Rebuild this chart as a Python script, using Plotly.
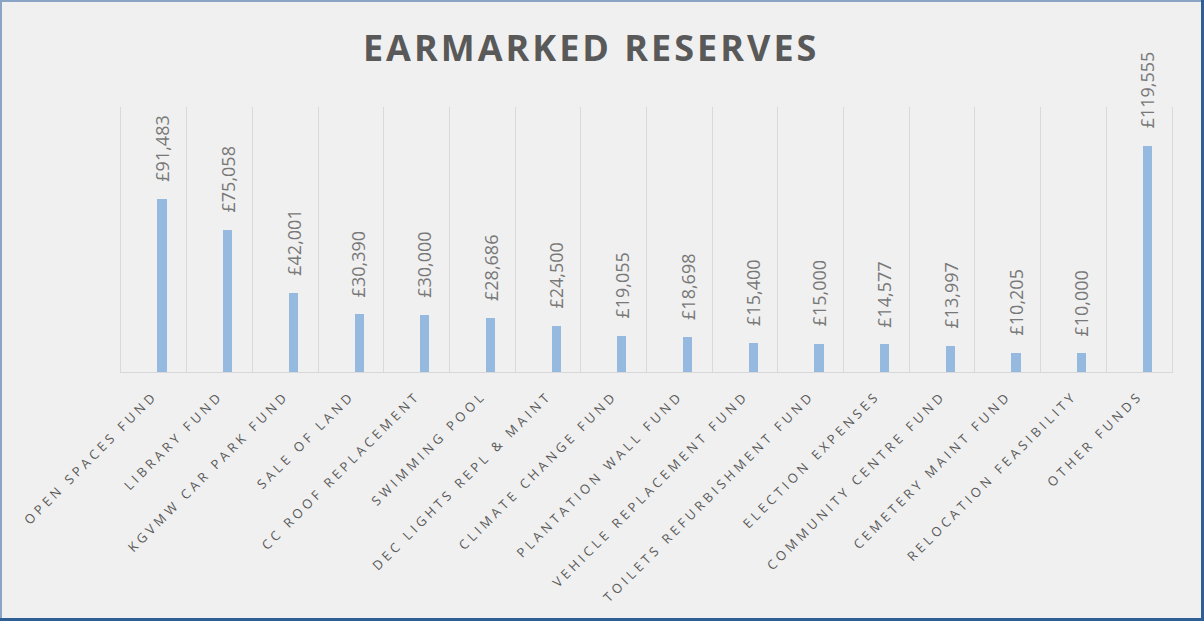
import plotly.graph_objects as go

categories = ["OPEN SPACES FUND", "LIBRARY FUND", "KGVMW CAR PARK FUND", "SALE OF LAND",
              "CC ROOF REPLACEMENT", "SWIMMING POOL", "DEC LIGHTS REPL & MAINT",
              "CLIMATE CHANGE FUND", "PLANTATION WALL FUND", "VEHICLE REPLACEMENT FUND",
              "TOILETS REFURBISHMENT FUND", "ELECTION EXPENSES", "COMMUNITY CENTRE FUND",
              "CEMETERY MAINT FUND", "RELOCATION FEASIBILITY", "OTHER FUNDS"]
values = [91483, 75058, 42001, 30390, 30000, 28686, 24500, 19055, 18698, 15400,
          15000, 14577, 13997, 10205, 10000, 119555]
value_labels = ["£{:,}".format(v) for v in values]
title_text = "EARMARKED RESERVES"

W, H = 1204, 621
ML, MR, MT, MB = 121, 32, 107, 249
PW, PH = W - ML - MR, H - MT - MB


def px_x(p):
    return (p - ML) / PW


def px_y(p):
    return (H - MB - p) / PH


fig = go.Figure()
fig.add_trace(go.Bar(
    x=categories, y=values,
    marker=dict(color="#95B9DF", line=dict(width=0)),
    width=0.14, offset=0.055,
    hoverinfo="x+y",
))

for c, v, t in zip(categories, values, value_labels):
    fig.add_annotation(
        x=c, y=v, text=t, textangle=-90, showarrow=False,
        xanchor="center", yanchor="bottom", yshift=15, xshift=8,
        font=dict(family="Open Sans", size=18, color="#787878"),
    )

fig.update_layout(
    width=W, height=H,
    margin=dict(l=ML, r=MR, t=MT, b=MB),
    paper_bgcolor="#F0F0F0", plot_bgcolor="#F0F0F0",
    title=dict(text="<b>" + title_text + "</b>", x=0.491, xanchor="center", y=0.922, yanchor="middle",
               font=dict(family="Open Sans", size=36, color="#595959")),
    showlegend=False,
    bargap=0,
)
fig.update_xaxes(
    type="category", range=[-0.5, len(categories) - 0.5],
    tickson="boundaries", showgrid=True, gridcolor="#D9D9D9", gridwidth=1,
    showline=True, linecolor="#D9D9D9", linewidth=1,
    ticks="", tickangle=-45, ticklabelstandoff=10,
    tickfont=dict(family="Open Sans", size=13, color="#595959"),
)
fig.update_yaxes(
    range=[0, 140000], showgrid=False, showticklabels=False, zeroline=False,
    showline=True, mirror=True, linecolor="#D9D9D9", linewidth=1,
)

# outer border: light top/left, darker bottom/right
fig.add_shape(
    type="rect", xref="paper", yref="paper",
    x0=px_x(1), x1=px_x(W - 1), y0=px_y(H - 1), y1=px_y(1),
    line=dict(color="#8AA4C6", width=2), fillcolor="rgba(0,0,0,0)", layer="above",
)
fig.add_shape(
    type="line", xref="paper", yref="paper",
    x0=px_x(0), x1=px_x(W), y0=px_y(H - 1.5), y1=px_y(H - 1.5),
    line=dict(color="#2F5F95", width=3), layer="above",
)
fig.add_shape(
    type="line", xref="paper", yref="paper",
    x0=px_x(W - 1.5), x1=px_x(W - 1.5), y0=px_y(0), y1=px_y(H),
    line=dict(color="#2F5F95", width=3), layer="above",
)

post = """
document.body.style.margin = '0';
document.body.style.padding = '0';
var gd = document.getElementById('{plot_id}');
function sp(){
  gd.querySelectorAll('.xtick text').forEach(function(t){ t.style.letterSpacing = '3.7px'; });
  gd.querySelectorAll('.gtitle').forEach(function(t){ t.style.letterSpacing = '3px'; });
}
sp();
if (gd.on) { gd.on('plotly_afterplot', sp); }
setTimeout(sp, 200);
"""

fig.write_html("out.html", post_script=post, config={"displayModeBar": False})
